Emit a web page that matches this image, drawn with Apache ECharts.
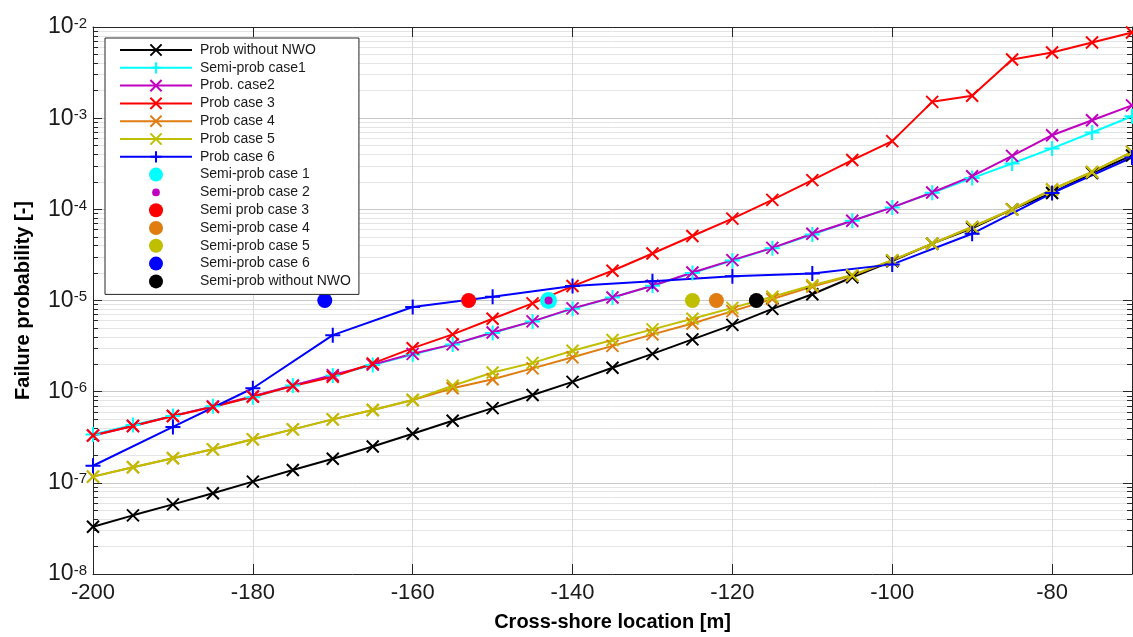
<!DOCTYPE html>
<html>
<head>
<meta charset="utf-8">
<script src="https://cdn.jsdelivr.net/npm/echarts@6/dist/echarts.min.js"></script>
<style>
  html, body { margin: 0; padding: 0; background: #fff; }
  #chart { width: 1133px; height: 637px; }
</style>
</head>
<body>
<div id="chart"></div>
<script>
// cross-shore locations, every 5 m
var xs = [-200, -195, -190, -185, -180, -175, -170, -165, -160, -155, -150, -145, -140, -135,
          -130, -125, -120, -115, -110, -105, -100, -95, -90, -85, -80, -75, -70];

var probNoNwo = [3.3e-8, 4.4e-8, 5.8e-8, 7.7e-8, 1.03e-7, 1.38e-7, 1.84e-7, 2.5e-7, 3.45e-7, 4.8e-7,
                 6.6e-7, 9.2e-7, 1.28e-6, 1.83e-6, 2.6e-6, 3.75e-6, 5.4e-6, 8.1e-6, 1.17e-5, 1.8e-5,
                 2.7e-5, 4.2e-5, 6.2e-5, 1.0e-4, 1.51e-4, 2.5e-4, 3.9e-4];
var semiCase1 = [3.4e-7, 4.3e-7, 5.4e-7, 6.9e-7, 8.7e-7, 1.17e-6, 1.5e-6, 1.96e-6, 2.55e-6, 3.3e-6,
                 4.4e-6, 5.9e-6, 8.1e-6, 1.08e-5, 1.45e-5, 2.0e-5, 2.75e-5, 3.75e-5, 5.3e-5, 7.5e-5,
                 1.05e-4, 1.52e-4, 2.2e-4, 3.18e-4, 4.66e-4, 6.97e-4, 1.05e-3];
var probCase2 = [3.3e-7, 4.2e-7, 5.4e-7, 6.9e-7, 8.9e-7, 1.17e-6, 1.52e-6, 1.98e-6, 2.6e-6, 3.3e-6,
                 4.45e-6, 5.9e-6, 8.2e-6, 1.08e-5, 1.45e-5, 2.03e-5, 2.77e-5, 3.78e-5, 5.4e-5, 7.5e-5,
                 1.05e-4, 1.53e-4, 2.31e-4, 3.86e-4, 6.5e-4, 9.5e-4, 1.38e-3];
var probCase3 = [3.3e-7, 4.2e-7, 5.4e-7, 6.8e-7, 8.8e-7, 1.15e-6, 1.46e-6, 2.04e-6, 3.0e-6, 4.25e-6,
                 6.3e-6, 9.3e-6, 1.44e-5, 2.12e-5, 3.28e-5, 5.1e-5, 7.9e-5, 1.27e-4, 2.09e-4, 3.47e-4,
                 5.6e-4, 1.51e-3, 1.76e-3, 4.4e-3, 5.25e-3, 6.76e-3, 8.7e-3];
var probCase4 = [1.17e-7, 1.48e-7, 1.86e-7, 2.33e-7, 3.0e-7, 3.86e-7, 4.97e-7, 6.3e-7, 8.1e-7, 1.09e-6,
                 1.37e-6, 1.8e-6, 2.38e-6, 3.18e-6, 4.25e-6, 5.6e-6, 7.65e-6, 1.04e-5, 1.42e-5, 1.88e-5,
                 2.75e-5, 4.2e-5, 6.4e-5, 1.0e-4, 1.65e-4, 2.57e-4, 4.27e-4];
var probCase5 = [1.17e-7, 1.48e-7, 1.86e-7, 2.33e-7, 3.0e-7, 3.86e-7, 4.97e-7, 6.3e-7, 8.1e-7, 1.16e-6,
                 1.62e-6, 2.07e-6, 2.81e-6, 3.68e-6, 4.82e-6, 6.3e-6, 8.3e-6, 1.1e-5, 1.47e-5, 1.9e-5,
                 2.77e-5, 4.2e-5, 6.4e-5, 1.0e-4, 1.65e-4, 2.57e-4, 4.27e-4];

// case 6 only every 10 m
var xsCase6 = [-200, -190, -180, -170, -160, -150, -140, -130, -120, -110, -100, -90, -80, -70];
var probCase6 = [1.54e-7, 4.1e-7, 1.09e-6, 4.17e-6, 8.5e-6, 1.1e-5, 1.44e-5, 1.63e-5, 1.85e-5,
                 1.98e-5, 2.49e-5, 5.4e-5, 1.51e-4, 3.7e-4];

// semi-probabilistic single points
var semiNames = ['Semi-prob case 1', 'Semi-prob case 2', 'Semi prob case 3', 'Semi-prob case 4',
                 'Semi-prob case 5', 'Semi-prob case 6', 'Semi-prob without NWO'];
var semiX = [-143, -143, -153, -122, -125, -171, -117];
var semiY = [1e-5, 1e-5, 1e-5, 1e-5, 1e-5, 1e-5, 1e-5];

var lineNames = ['Prob without NWO', 'Semi-prob case1', 'Prob. case2', 'Prob case 3',
                 'Prob case 4', 'Prob case 5', 'Prob case 6'];

var FONT = '"Liberation Sans", Arial, sans-serif';
var CROSS = 'path://M0,0L10,10M10,0L0,10';
var PLUS = 'path://M5,0L5,10M0,5L10,5';
// small dot inside a larger empty box, for the legend of case 2
var SMALL_DOT = 'path://M0,0M20,20M4.5,10A5.5,5.5,0,1,1,15.5,10A5.5,5.5,0,1,1,4.5,10Z';

function pairs(x, y) {
    return x.map(function (v, i) { return [v, y[i]]; });
}

function lineSeries(name, x, y, color, symbol, size) {
    return {
        name: name,
        type: 'line',
        data: pairs(x, y),
        symbol: symbol,
        symbolSize: size,
        showAllSymbol: true,
        lineStyle: { color: color, width: 2 },
        itemStyle: { color: color, borderColor: color, borderWidth: 2 },
        animation: false
    };
}

var myChart = echarts.init(document.getElementById('chart'));

var series = [
    lineSeries(lineNames[0], xs, probNoNwo, '#000000', CROSS, 12),
    lineSeries(lineNames[1], xs, semiCase1, '#00ffff', PLUS, 15),
    lineSeries(lineNames[2], xs, probCase2, '#bf00bf', CROSS, 12),
    lineSeries(lineNames[3], xs, probCase3, '#ff0000', CROSS, 12),
    lineSeries(lineNames[4], xs, probCase4, '#e07c10', CROSS, 12),
    lineSeries(lineNames[5], xs, probCase5, '#bfbf00', CROSS, 12),
    lineSeries(lineNames[6], xsCase6, probCase6, '#0000ff', PLUS, 15)
];

var semiColors = ['#00ffff', '#bf00bf', '#ff0000', '#e07c10', '#bfbf00', '#0000ff', '#000000'];
var semiSizes = [17, 8, 15, 15, 15, 15, 15];
semiNames.forEach(function (n, i) {
    series.push({
        name: n,
        type: 'scatter',
        data: [[semiX[i], semiY[i]]],
        symbol: 'circle',
        symbolSize: semiSizes[i],
        itemStyle: { color: semiColors[i], opacity: 1 },
        z: 3 + (i === 1 ? 1 : 0),
        animation: false
    });
});

var legendData = lineNames.concat(semiNames).map(function (n) {
    return n === 'Semi-prob case 2' ? { name: n, icon: SMALL_DOT } : n;
});

var option = {
    backgroundColor: '#ffffff',
    textStyle: { fontFamily: FONT },
    grid: { left: 93, right: 1, top: 27, bottom: 63 },
    legend: {
        data: legendData,
        orient: 'vertical',
        left: 105,
        top: 38,
        backgroundColor: '#ffffff',
        borderColor: '#262626',
        borderWidth: 1,
        borderRadius: 0,
        padding: [5, 8, 6, 14],
        itemWidth: 72,
        itemHeight: 14,
        itemGap: 3.8,
        textStyle: { fontSize: 14, color: '#1a1a1a', fontFamily: FONT, padding: [0, 0, 0, 3] }
    },
    xAxis: [
        {
            type: 'value',
            min: -200,
            max: -70,
            interval: 20,
            name: 'Cross-shore location [m]',
            nameLocation: 'middle',
            nameGap: 38,
            nameTextStyle: { fontSize: 20, fontWeight: 'bold', color: '#000', fontFamily: FONT },
            axisLine: { show: true, lineStyle: { color: '#262626', width: 1 } },
            axisTick: { show: true, inside: true, length: 10, lineStyle: { color: '#262626' } },
            axisLabel: { fontSize: 22, color: '#1a1a1a', margin: 8, showMaxLabel: false, fontFamily: FONT },
            splitLine: { show: true, lineStyle: { color: '#d9d9d9', width: 1 } }
        },
        {
            type: 'value',
            position: 'top',
            min: -200,
            max: -70,
            interval: 20,
            axisLine: { show: true, lineStyle: { color: '#262626', width: 1 } },
            axisTick: { show: true, inside: true, length: 10, lineStyle: { color: '#262626' } },
            axisLabel: { show: false },
            splitLine: { show: false }
        }
    ],
    yAxis: [
        {
            type: 'log',
            logBase: 10,
            min: 1e-8,
            max: 1e-2,
            splitNumber: 6,
            name: 'Failure probability [-]',
            nameLocation: 'middle',
            nameGap: 60,
            nameTextStyle: { fontSize: 20, fontWeight: 'bold', color: '#000', fontFamily: FONT },
            axisLine: { show: true, lineStyle: { color: '#262626', width: 1 } },
            axisTick: { show: true, inside: true, length: 9, lineStyle: { color: '#262626' } },
            minorTick: { show: true, splitNumber: 9, length: 5, lineStyle: { color: '#262626' } },
            minorSplitLine: { show: true, lineStyle: { color: '#e4e4e4', width: 1 } },
            axisLabel: {
                margin: 6,
                color: '#1a1a1a',
                formatter: function (v) {
                    var p = Math.round(Math.log10(v));
                    return '{b|10}{s|' + p + '}';
                },
                rich: {
                    b: { fontSize: 23, fontFamily: FONT, color: '#1a1a1a' },
                    s: { fontSize: 15, fontFamily: FONT, color: '#1a1a1a', padding: [0, 0, 7, 0] }
                }
            },
            splitLine: { show: true, lineStyle: { color: '#c8c8c8', width: 1 } }
        },
        {
            type: 'log',
            logBase: 10,
            min: 1e-8,
            max: 1e-2,
            splitNumber: 6,
            position: 'right',
            axisLine: { show: true, lineStyle: { color: '#262626', width: 1 } },
            axisTick: { show: true, inside: true, length: 9, lineStyle: { color: '#262626' } },
            minorTick: { show: true, splitNumber: 9, length: 5, lineStyle: { color: '#262626' } },
            axisLabel: { show: false },
            splitLine: { show: false }
        }
    ],
    series: series
};

myChart.setOption(option);
</script>
</body>
</html>
